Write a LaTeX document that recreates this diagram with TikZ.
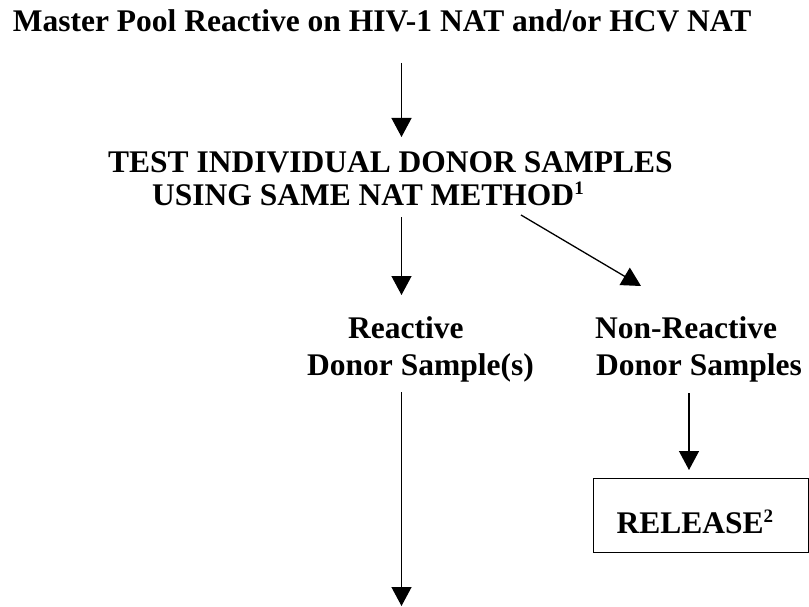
\documentclass[tikz,border=0pt]{standalone}
\usepackage{fontspec}
\setmainfont{Liberation Serif}
\usetikzlibrary{arrows.meta}
\newcommand\supnum[1]{\raisebox{11pt}{\fontsize{19}{19}\selectfont #1}}
\tikzset{
  txt/.style={anchor=base west, inner sep=0pt, font=\bfseries\fontsize{31.5}{37}\selectfont},
  arr/.style={line width=1.3pt, -{Triangle[width=20pt,length=19pt]}},
  boxnode/.style={draw, line width=1.3pt, anchor=north west, minimum width=215pt, minimum height=74pt,
    inner xsep=23pt, inner ysep=0pt, text width=169pt, align=left, text height=36pt, text depth=0pt,
    font=\bfseries\fontsize{31.5}{37}\selectfont}
}
\begin{document}
\begin{tikzpicture}[x=1pt,y=-1pt]
\useasboundingbox (0,0) rectangle (809,607);
% texts
\node[txt] (title) at (12.7,32) {Master Pool Reactive on HIV-1 NAT and/or HCV NAT};
\node[txt] (test1) at (108,172) {TEST INDIVIDUAL DONOR SAMPLES};
\node[txt] (test2) at (152,206) {USING SAME NAT METHOD\supnum{1}};
\node[txt] (react1) at (348,338) {Reactive};
\node[txt] (react2) at (307,375) {Donor Sample(s)};
\node[txt] (nonr1) at (595,338) {Non-Reactive};
\node[txt] (nonr2) at (596,375) {Donor Samples};
\node[boxnode] (release) at (593,478) {RELEASE\supnum{2}};
% connector end points
\coordinate (a1s) at (401.5,63);
\coordinate (a1e) at (401.5,137);
\coordinate (a2s) at (401.5,217);
\coordinate (a2e) at (401.5,295);
\coordinate (a3s) at (521,215);
\coordinate (a3e) at (641,286);
\coordinate (a4s) at (689,393);
\coordinate (a4e) at (release.north -| 689,0);
\coordinate (a5s) at (401.5,392);
\coordinate (a5e) at (401.5,606);
% connectors
\draw[arr] (a1s) -- (a1e);
\draw[arr] (a2s) -- (a2e);
\draw[arr] (a3s) -- (a3e);
\draw[arr] (a4s) -- ([yshift=8pt]a4e);
\draw[arr] (a5s) -- (a5e);
\end{tikzpicture}
\end{document}
